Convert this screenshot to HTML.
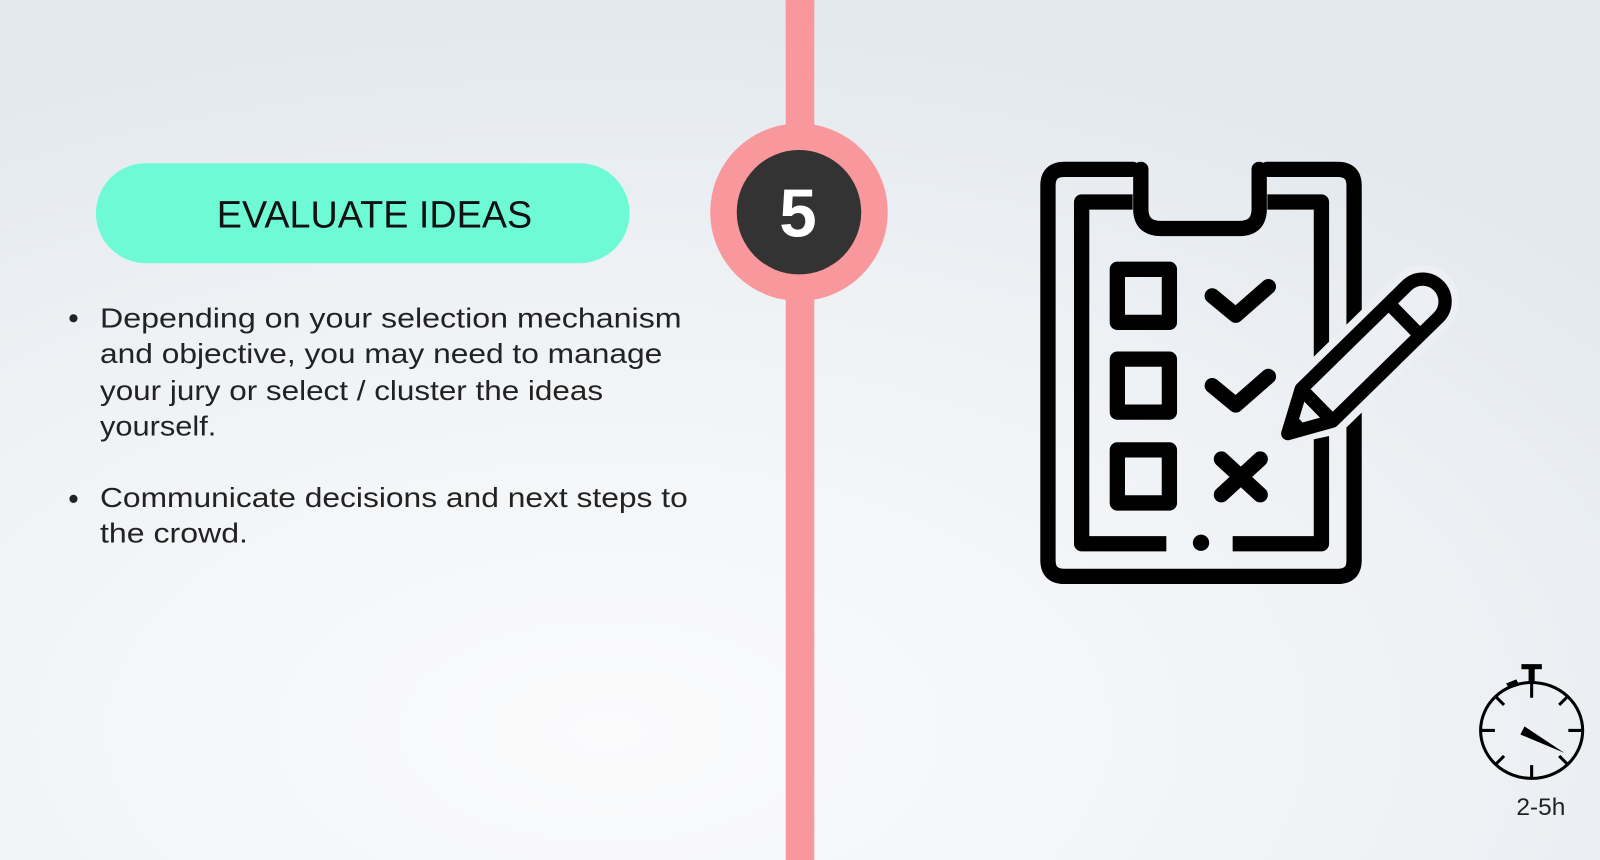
<!DOCTYPE html>
<html><head><meta charset="utf-8"><style>
html,body{margin:0;padding:0;width:1600px;height:860px;overflow:hidden}
svg{display:block}
text{font-family:"Liberation Sans",sans-serif}
</style></head><body>
<svg width="1600" height="860" viewBox="0 0 1568 843" preserveAspectRatio="none" xmlns="http://www.w3.org/2000/svg">
<defs>
<radialGradient id="bg" cx="0.38" cy="0.85" r="0.85">
<stop offset="0" stop-color="#fbfbfc"/>
<stop offset="0.6" stop-color="#eff2f5"/>
<stop offset="1" stop-color="#e2e8ee"/>
</radialGradient>
</defs>
<rect width="1568" height="843" fill="url(#bg)"/>
<rect x="770" y="0" width="28" height="843" fill="#f9989c"/>
<circle cx="783" cy="208" r="87" fill="#f9989c"/>
<circle cx="783" cy="208" r="61" fill="#333333"/>
<text x="782" y="232" text-anchor="middle" font-size="66" font-weight="bold" fill="#ffffff">5</text>
<rect x="94" y="160" width="523" height="98" rx="49" fill="#6ffad6"/>
<text x="367" y="223" text-anchor="middle" font-size="37" fill="#111">EVALUATE IDEAS</text>
<g font-size="27" fill="#222" lengthAdjust="spacingAndGlyphs">
<circle cx="72" cy="312" r="4" fill="#222"/>
<text x="98" y="321" textLength="570" lengthAdjust="spacingAndGlyphs">Depending on your selection mechanism</text>
<text x="98" y="356" textLength="551" lengthAdjust="spacingAndGlyphs">and objective, you may need to manage</text>
<text x="98" y="392" textLength="493" lengthAdjust="spacingAndGlyphs">your jury or select / cluster the ideas</text>
<text x="98" y="427" textLength="114" lengthAdjust="spacingAndGlyphs">yourself.</text>
<circle cx="72" cy="489" r="4" fill="#222"/>
<text x="98" y="497" textLength="576" lengthAdjust="spacingAndGlyphs">Communicate decisions and next steps to</text>
<text x="98" y="532" textLength="145" lengthAdjust="spacingAndGlyphs">the crowd.</text>
</g>
<g fill="none" stroke="#000" stroke-width="15" stroke-linecap="round" stroke-linejoin="round">
<path d="M1110 166 H1043 Q1027 166 1027 182 V549 Q1027 565 1043 565 H1311 Q1327 565 1327 549 V182 Q1327 166 1311 166 H1242"/>
<path d="M1110 198 H1060 V533 H1143 M1208 533 H1295 V198 H1242" stroke-linecap="butt"/>
<path d="M1118 166 V205 Q1118 224 1138 224 H1214 Q1234 224 1234 205 V166"/>
<rect x="1095" y="264" width="51" height="52"/>
<rect x="1095" y="352" width="51" height="52"/>
<rect x="1095" y="441" width="51" height="52"/>
<path d="M1188 290 L1211 309 L1243 281"/>
<path d="M1188 378 L1211 397 L1243 369"/>
<path d="M1197 450 L1235 485 M1235 450 L1197 485"/>
</g>
<circle cx="1177" cy="532" r="8" fill="#000"/>
<g transform="translate(1262 425) rotate(-44.4)">
<path d="M0 0 L40 -25 H185 A25 25 0 0 1 185 25 H40 Z" fill="#eceff3" stroke="#eceff3" stroke-width="22" stroke-linejoin="round"/>
<g fill="none" stroke="#000" stroke-width="13" stroke-linejoin="round">
<path d="M0 0 L40 -22 H185 A22 22 0 0 1 185 22 H40 Z"/>
<path d="M40 -22 V22 M160 -22 V22"/>
</g>
<path d="M0 0 L18 -9 V9 Z" fill="#000"/>
</g>
<g fill="none" stroke="#000" stroke-width="3">
<ellipse cx="1501" cy="716" rx="50" ry="47"/>
<path d="M1501 670 V684 M1501 750 V762 M1452 716 H1465 M1537 716 H1550 M1466 683 L1474 691 M1536 683 L1528 691 M1466 749 L1474 741 M1536 749 L1528 741"/>
</g>
<rect x="1491" y="651" width="20" height="5" fill="#000"/>
<rect x="1498" y="654" width="6" height="14" fill="#000"/>
<path d="M1476 670 L1486 666 L1489 672 L1479 675 Z" fill="#000"/>
<path d="M1494 712 L1533 738 L1490 720 Z" fill="#000"/>
<text x="1510" y="799" text-anchor="middle" font-size="24" fill="#222">2-5h</text>
</svg>
</body></html>
